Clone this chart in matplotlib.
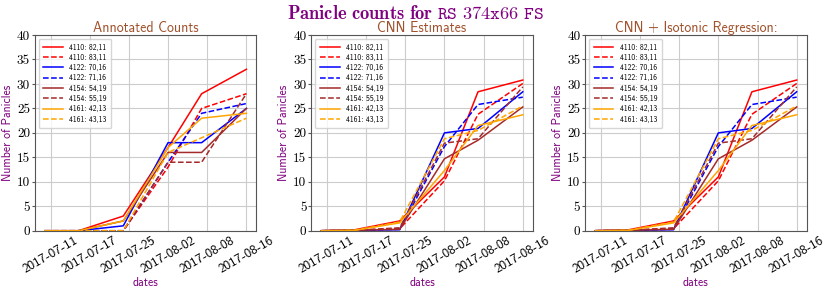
import numpy as np
import matplotlib.pyplot as plt
import matplotlib.dates as mdates

dates = ["2017-07-11", "2017-07-17", "2017-07-25", "2017-08-02", "2017-08-08", "2017-08-16"]
tick_dates = ["2017-07-12", "2017-07-19", "2017-07-26", "2017-08-02", "2017-08-09", "2017-08-16"]

labels = ["4110: 82,11", "4110: 83,11", "4122: 70,16", "4122: 71,16",
          "4154: 54,19", "4154: 55,19", "4161: 42,13", "4161: 43,13"]
colors = ["red", "red", "blue", "blue", "brown", "brown", "orange", "orange"]
styles = ["-", "--", "-", "--", "-", "--", "-", "--"]

annotated = [
    [0, 0, 3, 17, 28, 33],
    [0, 0, 0, 13, 25, 28],
    [0, 0, 1, 18, 18, 25],
    [0, 0, 0, 14, 24, 26],
    [0, 0, 2, 16, 16, 25],
    [0, 0, 0, 14, 14, 28],
    [0, 0, 2, 17, 23, 24],
    [0, 0, 0, 16, 19, 23],
]

cnn = [
    [0, 0.2, 2.0, 11.0, 28.4, 30.8],
    [0, 0.1, 0.4, 10.2, 23.8, 30.1],
    [0, 0.1, 0.2, 20.0, 20.9, 28.4],
    [0, 0.1, 0.3, 17.2, 25.8, 27.3],
    [0, 0.1, 0.3, 14.7, 18.5, 25.3],
    [0, 0.1, 0.6, 17.9, 18.8, 29.4],
    [0, 0.1, 1.6, 12.3, 21.5, 23.7],
    [0, 0.1, 1.8, 18.8, 20.5, 25.5],
]

isotonic = [row[:] for row in cnn]

titles = ["Annotated Counts", "CNN Estimates", "CNN + Isotonic Regression:"]
panels = [annotated, cnn, isotonic]

x = mdates.datestr2num(dates)
xt = mdates.datestr2num(tick_dates)

plt.rcParams["mathtext.fontset"] = "cm"
fig = plt.figure(figsize=(8.3, 3.02), dpi=100)
lefts = [0.042, 0.375, 0.705]
title_col = "sienna"
lab_col = "purple"

for k in range(3):
    ax = fig.add_axes([lefts[k], 0.236, 0.267, 0.648])
    for vals, lab, c, ls in zip(panels[k], labels, colors, styles):
        ax.plot(x, vals, ls, color=c, lw=1.1, label=lab)
    ax.set_ylim(0, 40)
    ax.set_yticks(np.arange(0, 41, 5))
    ax.set_xticks(xt)
    ax.set_xticklabels(dates, rotation=30, fontsize=9.5, family="cmss10")
    for t in ax.get_yticklabels():
        t.set_fontfamily("cmr10")
        t.set_fontsize(9.5)
    ax.grid(True, color="#cccccc", lw=0.8)
    ax.set_axisbelow(True)
    for s in ax.spines.values():
        s.set_color("#555555")
    ax.tick_params(axis="y", length=2.5, color="#555555", pad=1)
    ax.tick_params(axis="x", length=0, pad=3)
    ax.set_title(titles[k], color=title_col, family="cmss10", fontsize=10, pad=2)
    ax.set_xlabel("dates", color=lab_col, family="cmss10", fontsize=8.5, labelpad=1)
    ax.set_ylabel("Number of Panicles", color=lab_col, family="cmss10", fontsize=8.5, labelpad=2)
    ax.legend(loc="upper left", prop={"family": "cmss10", "size": 5.5},
              labelspacing=0.3, handlelength=2.6, borderpad=0.6)

fig.text(0.5, 0.955, r"$\mathbf{Panicle\ counts\ for}\ \mathtt{RS\ 374x66\ FS}$",
         ha="center", va="center", color="purple", fontsize=13.3)

fig.savefig("out.png", dpi=100)
